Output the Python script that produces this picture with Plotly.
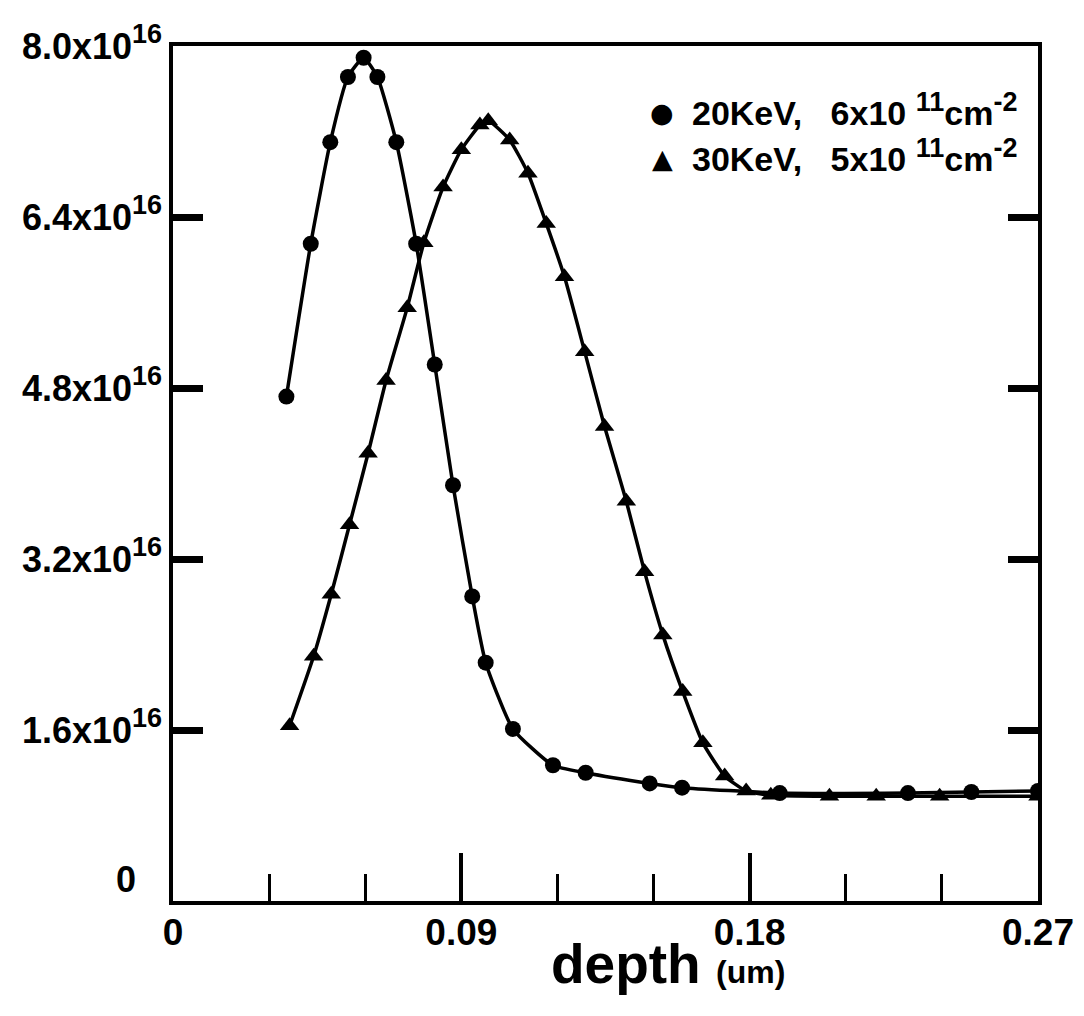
import plotly.graph_objects as go

# ---- data (depth in um, concentration in cm^-3) ----
circle_x = [0.0354, 0.0430, 0.0491, 0.0546, 0.0595, 0.0638, 0.0697, 0.0759, 0.0817,
            0.0874, 0.0934, 0.0976, 0.1061, 0.1186, 0.1288, 0.1488, 0.1589, 0.1894,
            0.2294, 0.2492, 0.2700]
circle_y_e16 = [4.72, 6.15, 7.10, 7.71, 7.89, 7.71, 7.10, 6.15, 5.02,
                3.89, 2.85, 2.23, 1.61, 1.27, 1.20, 1.10, 1.06, 1.01,
                1.01, 1.02, 1.03]

tri_x = [0.0364, 0.0439, 0.0494, 0.0551, 0.0609, 0.0665, 0.0731, 0.0783, 0.0843, 0.0900,
         0.0958, 0.0984, 0.1051, 0.1108, 0.1165, 0.1222, 0.1285, 0.1347, 0.1415, 0.1472,
         0.1529, 0.1591, 0.1654, 0.1722, 0.1789, 0.1866, 0.2049, 0.2195, 0.2393, 0.2700]
tri_y_e16 = [1.64, 2.29, 2.87, 3.52, 4.19, 4.87, 5.55, 6.16, 6.68, 7.03,
             7.26, 7.30, 7.12, 6.81, 6.34, 5.84, 5.14, 4.44, 3.74, 3.08,
             2.49, 1.96, 1.48, 1.17, 1.03, 0.99, 0.98, 0.98, 0.98, 0.98]

y_tick_vals_e16 = [1.6, 3.2, 4.8, 6.4, 8.0]
y_tick_mant = ["1.6", "3.2", "4.8", "6.4", "8.0"]
x_tick_vals = [0, 0.09, 0.18, 0.27]
x_tick_text = ["0", "0.09", "0.18", "0.27"]

legend_energy = ["20KeV,", "30KeV,"]
legend_dose = ["6", "5"]

E16 = 1e16
FONT = "Liberation Sans, Arial, Helvetica, sans-serif"
NB = "\u00a0"

y_tick_text = [m + "x10<sup><span style='font-size:27px'>16</span></sup>" for m in y_tick_mant]
legend_labels = [e + NB * 3 + d + "x10" + NB + "<sup><span style='font-size:27px'>11</span></sup>cm"
                 "<sup><span style='font-size:27px'>-2</span></sup>"
                 for e, d in zip(legend_energy, legend_dose)]

fig = go.Figure()
fig.add_trace(go.Scatter(
    x=circle_x, y=[v * E16 for v in circle_y_e16], mode="lines+markers",
    line=dict(color="black", width=3.5, shape="spline", smoothing=0.5),
    marker=dict(symbol="circle", size=16, color="black"), showlegend=False))
fig.add_trace(go.Scatter(
    x=tri_x, y=[v * E16 for v in tri_y_e16], mode="lines+markers",
    line=dict(color="black", width=3.5, shape="spline", smoothing=0.5),
    marker=dict(symbol="triangle-up", size=17, color="black"), showlegend=False))

fig.update_layout(
    width=1084, height=1016,
    margin=dict(l=165, r=54, t=38, b=123),
    paper_bgcolor="white", plot_bgcolor="white",
    font=dict(family=FONT, color="black", size=36, weight="bold"),
)
fig.update_xaxes(
    range=[0, 0.27], tickvals=x_tick_vals, ticktext=x_tick_text,
    ticks="inside", ticklen=48, tickwidth=4, tickcolor="black",
    minor=dict(dtick=0.03, tick0=0, ticks="inside", ticklen=27, tickwidth=3, tickcolor="black"),
    showline=True, linewidth=3.5, linecolor="black", mirror=True,
    showgrid=False, zeroline=False, ticklabelstandoff=-4,
    tickfont=dict(family=FONT, size=37, color="black", weight="bold"),
)
fig.update_yaxes(
    range=[0, 8.0 * E16], tickvals=[v * E16 for v in y_tick_vals_e16], ticktext=y_tick_text,
    ticks="inside", ticklen=30, tickwidth=7, tickcolor="black",
    showline=True, linewidth=3.5, linecolor="black", mirror="ticks",
    showgrid=False, zeroline=False,
    tickfont=dict(family=FONT, size=36, color="black", weight="bold"),
)

# zero label of the y axis
fig.add_annotation(text="0", xref="paper", yref="y", x=0, y=0, xanchor="right", yanchor="middle",
                   xshift=-35, yshift=22, showarrow=False,
                   font=dict(family=FONT, size=36, color="black", weight="bold"))

# legend
sym = ["●", "▲"]
leg_y = [102, 147]
for s, lab, py in zip(sym, legend_labels, leg_y):
    yp = 1 - (py - 38) / (893 - 38)
    fig.add_annotation(text=s, xref="paper", yref="paper", x=(654 - 165) / 865, y=yp,
                       xanchor="center", yanchor="middle", showarrow=False, yshift=-3,
                       font=dict(family="DejaVu Sans", size=27, color="black"))
    fig.add_annotation(text=lab, xref="paper", yref="paper", x=(682 - 165) / 865, y=yp,
                       xanchor="left", yanchor="middle", showarrow=False,
                       font=dict(family=FONT, size=34, color="black", weight="bold"))

# x axis title
fig.add_annotation(text="depth <span style='font-size:32px'>(um)</span>",
                   xref="paper", yref="paper", x=(660 - 165) / 865, y=0,
                   xanchor="center", yanchor="middle", yshift=-63, showarrow=False,
                   font=dict(family=FONT, size=55, color="black", weight="bold"))

fig.write_html("out.html")
